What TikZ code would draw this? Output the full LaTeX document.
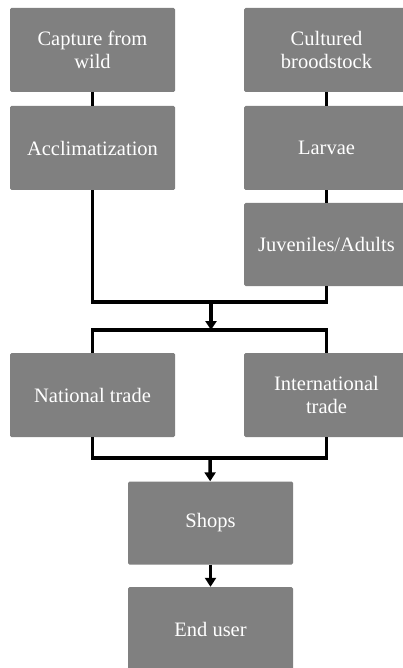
\documentclass[tikz,border=0pt]{standalone}
\usepackage{fontspec}
\setmainfont{Liberation Serif}
\usetikzlibrary{arrows.meta}

\definecolor{boxgray}{RGB}{128,128,128}

\tikzset{
    stagebox/.style={rectangle, rounded corners=1.5pt, fill=boxgray, text=white,
        minimum width=165pt, minimum height=84pt, align=center, inner sep=2pt,
        font=\fontsize{20.5}{23}\selectfont},
    link/.style={line width=3.5pt},
    flow/.style={line width=3.5pt, -{Triangle[length=9pt,width=11pt]}}
}

\begin{document}
\begin{tikzpicture}[x=1pt, y=-1pt]

    % Fix the page size
    \useasboundingbox (0,0) rectangle (402,668);

    % --- SOURCES (left: wild, right: cultured) ---
    \node[stagebox] (capture) at (92.5,50) {Capture from\\wild};
    \node[stagebox] (acclim) at (92.5,148) {Acclimatization};

    \node[stagebox] (brood) at (326.5,50) {Cultured\\broodstock};
    \node[stagebox] (larvae) at (326.5,148) {Larvae};
    \node[stagebox, minimum height=83pt] (juvenile) at (326.5,244.5) {Juveniles/Adults};

    % --- TRADE ---
    \node[stagebox] (national) at (92.5,395) {National trade};
    \node[stagebox] (intl) at (326.5,395) {International\\trade};

    % --- RETAIL ---
    \node[stagebox, minimum height=83pt] (shops) at (210.5,523) {Shops};
    \node[stagebox] (enduser) at (210.5,629) {End user};

    % Junction points of the connectors
    \coordinate (merge) at (211,302);
    \coordinate (split) at (211,330);
    \coordinate (collect) at (210,458);

    % Chains within each source
    \draw[link] (capture) -- (acclim);
    \draw[link] (brood) -- (larvae);
    \draw[link] (larvae) -- (juvenile);

    % Merge both sources, then split into trade
    \draw[link] (acclim.south) |- (merge) -| (juvenile.south);
    \draw[flow] (merge) -- (split);
    \draw[link] (national.north) |- (split) -| (intl.north);

    % Collect trade and pass on to shops and users
    \draw[link] (national.south) |- (collect) -| (intl.south);
    \draw[flow] (collect) -- (shops);
    \draw[flow] (shops) -- (enduser);

\end{tikzpicture}
\end{document}
